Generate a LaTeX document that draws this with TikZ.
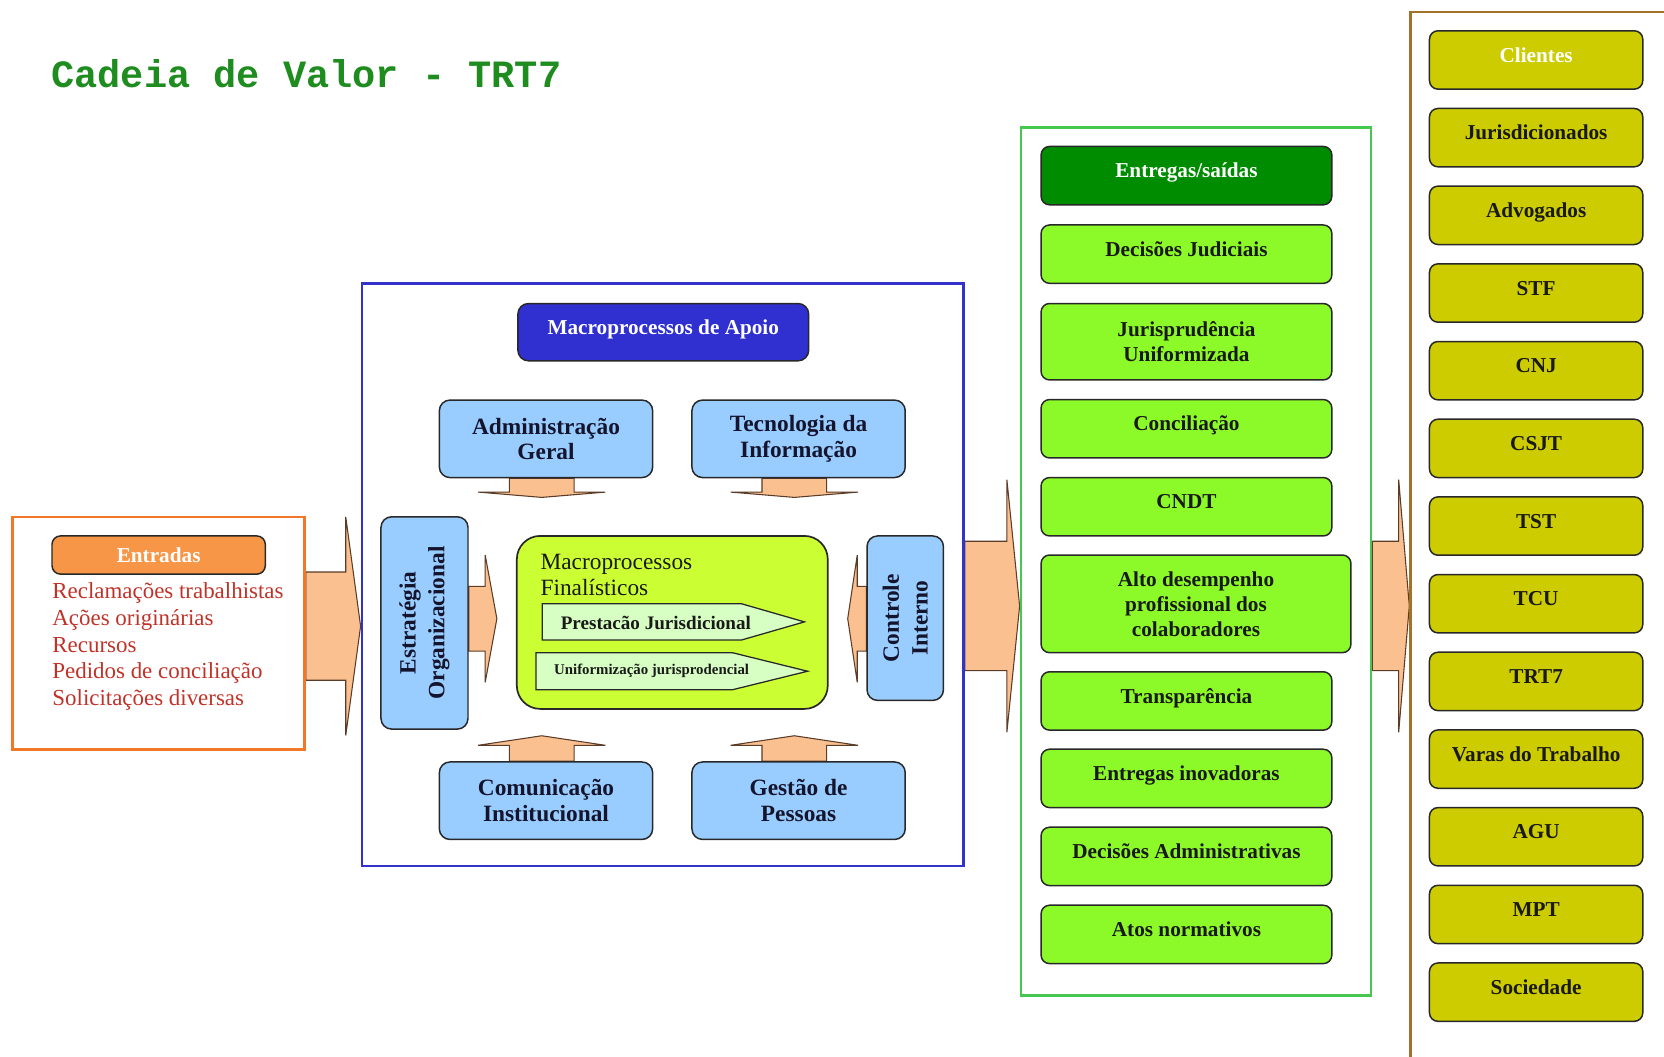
\documentclass[tikz,border=0pt]{standalone}
\usepackage{fontspec}
\setmainfont{Liberation Serif}
\newfontfamily\titlefont{Liberation Mono}
\usetikzlibrary{calc}
\pgfdeclarelayer{bg}
\pgfsetlayers{bg,main}

\definecolor{frameblue}{RGB}{51,51,204}
\definecolor{apoiofill}{RGB}{48,48,208}
\definecolor{lblue}{RGB}{153,204,255}
\definecolor{finfill}{RGB}{204,255,51}
\definecolor{pentfill}{RGB}{215,255,195}
\definecolor{peach}{RGB}{250,192,144}
\definecolor{arrowline}{RGB}{90,60,40}
\definecolor{itemgreen}{RGB}{140,250,40}
\definecolor{hdrgreen}{RGB}{0,140,0}
\definecolor{framegreen}{RGB}{70,200,80}
\definecolor{clientfill}{RGB}{204,204,0}
\definecolor{framebrown}{RGB}{160,115,40}
\definecolor{frameorange}{RGB}{240,120,40}
\definecolor{entfill}{RGB}{247,150,70}
\definecolor{entext}{RGB}{192,50,40}
\definecolor{titlegreen}{RGB}{30,140,30}
\definecolor{boxline}{RGB}{40,40,40}
\definecolor{navytext}{RGB}{20,20,45}

% block arrows: #1 start, #2 tip, #3 shaft half width, #4 head half width, #5 head length
\newcommand\blkR[5]{\filldraw[barrow] ($#1+(0,-#3)$) -- ($#2+(-#5,-#3)$) -- ($#2+(-#5,-#4)$) -- #2 -- ($#2+(-#5,#4)$) -- ($#2+(-#5,#3)$) -- ($#1+(0,#3)$) -- cycle;}
\newcommand\blkL[5]{\filldraw[barrow] ($#1+(0,-#3)$) -- ($#2+(#5,-#3)$) -- ($#2+(#5,-#4)$) -- #2 -- ($#2+(#5,#4)$) -- ($#2+(#5,#3)$) -- ($#1+(0,#3)$) -- cycle;}
\newcommand\blkD[5]{\filldraw[barrow] ($#1+(-#3,0)$) -- ($#2+(-#3,-#5)$) -- ($#2+(-#4,-#5)$) -- #2 -- ($#2+(#4,-#5)$) -- ($#2+(#3,-#5)$) -- ($#1+(#3,0)$) -- cycle;}
\newcommand\blkU[5]{\filldraw[barrow] ($#1+(-#3,0)$) -- ($#2+(-#3,#5)$) -- ($#2+(-#4,#5)$) -- #2 -- ($#2+(#4,#5)$) -- ($#2+(#3,#5)$) -- ($#1+(#3,0)$) -- cycle;}

\begin{document}
\begin{tikzpicture}[x=0.5pt,y=-0.5pt,
  barrow/.style={fill=peach, draw=arrowline, line width=0.5pt, line join=miter},
  frame/.style={draw, line width=1.2pt, inner sep=0pt},
  bbox/.style={draw=boxline, line width=0.7pt, rounded corners=5pt, fill=lblue, align=center, inner sep=1pt, text=navytext, font=\bfseries\fontsize{11}{12}\selectfont, minimum width=100.5pt, minimum height=36.5pt},
  vtext/.style={rotate=90, align=center, inner sep=0pt, text=navytext, font=\bfseries\fontsize{11}{13.5}\selectfont},
  item/.style={draw=boxline, line width=0.7pt, rounded corners=4pt, fill=itemgreen, align=center, inner sep=1pt, minimum width=137pt, minimum height=27.5pt, font=\bfseries\fontsize{10}{11.8}\selectfont, text=black!90},
  lift/.style={text height=7pt, text depth=5pt},
  client/.style={item, lift, fill=clientfill, minimum width=100.5pt},
  pent/.style={fill=pentfill, draw=boxline, line width=0.6pt, line join=miter},
]
\path[use as bounding box] (0,0) rectangle (1568,996);
\clip (0,0) rectangle (1568,996);

% title
\node[anchor=west, text=titlegreen, font=\titlefont\bfseries\fontsize{18.2}{20}\selectfont, inner sep=0pt] (title) at (48,69) {Cadeia de Valor - TRT7};

% entradas
\node[frame, draw=frameorange, minimum width=137.5pt, minimum height=109.5pt] (entr) at (149.5,596.5) {};
\node[draw=boxline, line width=0.7pt, rounded corners=4pt, fill=entfill, text=white, font=\bfseries\fontsize{10}{12}\selectfont, minimum width=100.5pt, minimum height=18pt, inner sep=0pt] (entlabel) at (149.5,523) {Entradas};
\node[anchor=north west, align=left, inner sep=0pt, text=entext, font=\fontsize{10.8}{12.5}\selectfont] (entlist) at (49,549) {Reclamações trabalhistas\\Ações originárias\\Recursos\\Pedidos de conciliação\\Solicitações diversas};

% macroprocessos de apoio frame
\node[frame, draw=frameblue, minimum width=283.5pt, minimum height=274.5pt] (apframe) at (624.5,541.5) {};
\node[draw=boxline, line width=0.7pt, rounded corners=5pt, fill=apoiofill, text=white, font=\bfseries\fontsize{10}{12}\selectfont, minimum width=137pt, minimum height=27pt, inner sep=0pt, lift] (apoio) at (625,313) {Macroprocessos de Apoio};

\node[bbox] (admin) at (514.5,413.5) {Administração\\Geral};
\node[bbox] (tec) at (752.5,413.5) {Tecnologia da\\Informação};
\node[bbox] (com) at (514.5,754.5) {Comunicação\\Institucional};
\node[bbox] (ges) at (752.5,754.5) {Gestão de\\Pessoas};
\node[bbox, minimum width=41pt, minimum height=100pt] (estr) at (400,587) {};
\node[vtext] (estrtxt) at (estr.center) {Estratégia\\Organizacional};
\node[bbox, minimum width=36pt, minimum height=77.5pt] (ctrl) at (853,582.5) {};
\node[vtext] (ctrltxt) at (ctrl.center) {Controle\\Interno};

% finalisticos
\node[draw=boxline, line width=0.8pt, rounded corners=11pt, fill=finfill, minimum width=146.5pt, minimum height=81.5pt] (fin) at (633.5,586.5) {};
\node[anchor=north west, align=left, inner sep=0pt, font=\fontsize{11}{12}\selectfont, text=black!90] (fintitle) at (509,522) {Macroprocessos\\Finalísticos};
\filldraw[pent] (511,569) -- (699,569) -- (758,586) -- (699,603) -- (511,603) -- cycle;
\node[font=\bfseries\fontsize{9}{10}\selectfont, text=black!90] (pj) at (618,587) {Prestacão Jurisdicional};
\filldraw[pent] (505,615) -- (690,615) -- (761,632.5) -- (690,650) -- (505,650) -- cycle;
\node[font=\bfseries\fontsize{7}{8}\selectfont, text=black!90] (uj) at (614,632) {Uniformização jurisprodencial};

% entregas / saidas
\node[frame, draw=framegreen, minimum width=165pt, minimum height=409pt] (outframe) at (1127,529) {};
\node[item, lift, fill=hdrgreen, text=white] (hdr) at (1118,165.5) {Entregas/saídas};
\node[item, lift] (o1) at (1118,239.5) {Decisões Judiciais};
\node[item, minimum height=36pt] (o2) at (1118,322) {Jurisprudência\\Uniformizada};
\node[item, lift] (o3) at (1118,404) {Conciliação};
\node[item, lift] (o4) at (1118,477.5) {CNDT};
\node[item, minimum width=146pt, minimum height=46pt] (o5) at (1127,569) {Alto desempenho\\profissional dos\\colaboradores};
\node[item, lift] (o6) at (1118,660.5) {Transparência};
\node[item, lift] (o7) at (1118,733.5) {Entregas inovadoras};
\node[item, lift] (o8) at (1118,807) {Decisões Administrativas};
\node[item, lift] (o9) at (1118,880.5) {Atos normativos};

% clientes
\node[frame, draw=framebrown, anchor=north west, minimum width=200pt, minimum height=520pt] (cliframe) at (1328,10) {};
\node[client, text=white] (c0) at (1447.5,56.5) {Clientes};
\foreach \t [count=\i] in {Jurisdicionados,Advogados,STF,CNJ,CSJT,TST,TCU,TRT7,Varas do Trabalho,AGU,MPT,Sociedade}
  \node[client] (c\i) at (1447.5,56.5+73.2*\i) {\t};

% block arrows (background layer)
\begin{pgfonlayer}{bg}
\coordinate (a1s) at (entr.east |- 0,590);
\coordinate (a1t) at (apframe.west |- 0,590);
\blkR{(a1s)}{(a1t)}{51}{103}{14}
\coordinate (a2s) at (apframe.east |- 0,571);
\coordinate (a2t) at (outframe.west |- 0,571);
\blkR{(a2s)}{(a2t)}{61}{119}{12}
\coordinate (a3s) at (outframe.east |- 0,571);
\coordinate (a3t) at (cliframe.west |- 0,571);
\blkR{(a3s)}{(a3t)}{61}{119}{10}
\coordinate (a4s) at (estr.east |- 0,583);
\coordinate (a4t) at ($(fin.west |- 0,583)+(-18,0)$);
\blkR{(a4s)}{(a4t)}{30.5}{60}{11}
\coordinate (a5s) at (ctrl.west |- 0,583);
\coordinate (a5t) at ($(fin.east |- 0,583)+(18,0)$);
\blkL{(a5s)}{(a5t)}{30.5}{60}{9}
\coordinate (d1s) at ($(admin.south)+(-4,0)$);
\coordinate (d1t) at ($(d1s)+(0,18)$);
\blkD{(d1s)}{(d1t)}{30.5}{60}{5}
\coordinate (d2s) at ($(tec.south)+(-4,0)$);
\coordinate (d2t) at ($(d2s)+(0,18)$);
\blkD{(d2s)}{(d2t)}{30.5}{60}{5}
\coordinate (u1s) at ($(com.north)+(-4,0)$);
\coordinate (u1t) at ($(u1s)+(0,-24)$);
\blkU{(u1s)}{(u1t)}{30.5}{60}{9}
\coordinate (u2s) at ($(ges.north)+(-4,0)$);
\coordinate (u2t) at ($(u2s)+(0,-24)$);
\blkU{(u2s)}{(u2t)}{30.5}{60}{9}
\end{pgfonlayer}
\end{tikzpicture}
\end{document}
